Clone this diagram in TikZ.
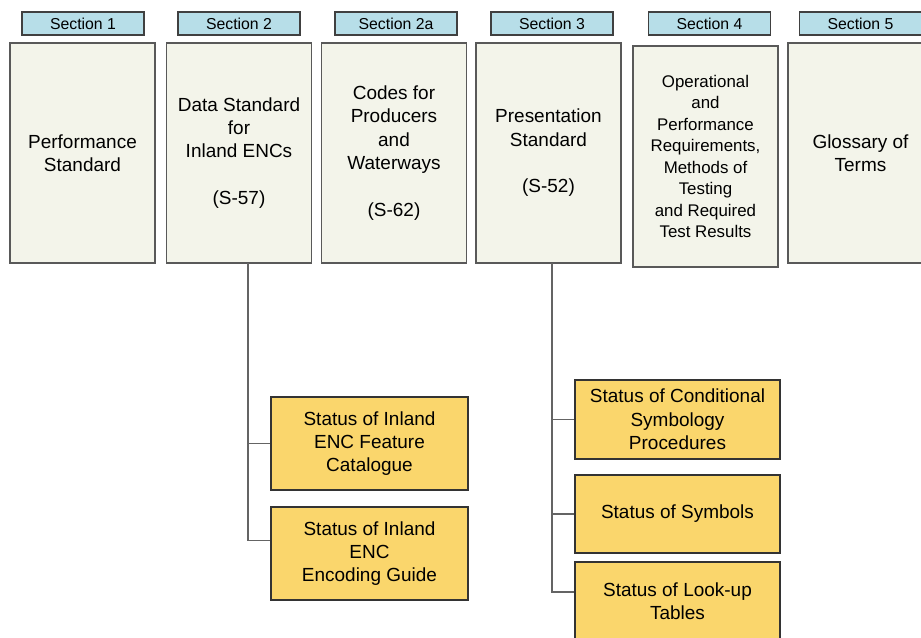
\documentclass[tikz,border=0pt]{standalone}
\usepackage{fontspec}
\setmainfont{Liberation Sans}
\usetikzlibrary{positioning,calc}
\definecolor{hdrblue}{RGB}{183,222,232}
\definecolor{boxpaper}{RGB}{243,244,234}
\definecolor{statgold}{RGB}{250,214,108}
\definecolor{linegray}{RGB}{100,100,100}

\begin{document}
\begin{tikzpicture}[x=0.02cm,y=-0.02cm]
\useasboundingbox (0,0) rectangle (921,637);
%%%%%%%%%%%%%%%%%%%%%%%%%%%%%%%%%%%%%%%%%%%%%%%%%%%%%%%%%%%%%%%%%%%%%%%%
%styles
\tikzstyle{header}=[draw=black!75,line width=0.8pt,fill=hdrblue,minimum width=2.44cm,minimum height=0.46cm,inner sep=0pt,font=\fontsize{9}{10}\selectfont]
\tikzstyle{section}=[draw=black!65,line width=0.8pt,fill=boxpaper,minimum width=2.9cm,minimum height=4.4cm,inner sep=2pt,align=center,font=\fontsize{10.8}{13.3}\selectfont]
\tikzstyle{status}=[draw=black!80,line width=0.8pt,fill=statgold,inner sep=2pt,align=center,font=\fontsize{10.8}{13.3}\selectfont]
\tikzstyle{conn}=[draw=linegray,line width=1pt]

%headers
\node[header] (sec1) at (83,23.5) {Section 1};
\node[header] (sec2) at (239,23.5) {Section 2};
\node[header] (sec2a) at (396,23.5) {Section 2a};
\node[header] (sec3) at (552,23.5) {Section 3};
\node[header] (sec4) at (709.5,23.5) {Section 4};
\node[header] (sec5) at (860.5,23.5) {Section 5};

%sections
\node[section] (perf) at (82.5,153) {Performance\\Standard};
\node[section] (datastd) at (239,153) {Data Standard\\for\\Inland ENCs\\[13.3pt](S-57)};
\node[section] (codes) at (394,153) {Codes for\\Producers\\and\\Waterways\\[13.3pt](S-62)};
\node[section] (pres) at (548.5,153) {Presentation\\Standard\\[13.3pt](S-52)};
\node[section,minimum height=4.42cm,font=\fontsize{9.6}{12.2}\selectfont] (oper) at (705.5,156.5)
 {Operational\\and\\Performance\\Requirements,\\Methods of\\Testing\\and Required\\Test Results};
\node[section] (gloss) at (860.5,153) {Glossary of\\Terms};

%status under S-57
\node[status,minimum width=3.94cm,minimum height=1.86cm] (featcat) at (369.5,443.5) {Status of Inland\\ENC Feature\\Catalogue};
\node[status,minimum width=3.94cm,minimum height=1.86cm] (encguide) at (369.5,553.5) {Status of Inland\\ENC\\Encoding Guide};

%status under S-52
\node[status,minimum width=4.1cm,minimum height=1.58cm] (condsym) at (677.5,419.5) {Status of Conditional\\Symbology\\Procedures};
\node[status,minimum width=4.1cm,minimum height=1.56cm] (symbols) at (677.5,514) {Status of Symbols};
\node[status,minimum width=4.1cm,minimum height=1.56cm] (lookup) at (677.5,601) {Status of Look-up\\Tables};

%connectors
\coordinate (trunkA) at (248,263);
\coordinate (trunkB) at (552,263);
\draw[conn] (trunkA) |- (featcat.west);
\draw[conn] (trunkA) |- ([yshift=0.26cm]encguide.west);
\draw[conn] (trunkB) |- (condsym.west);
\draw[conn] (trunkB) |- (symbols.west);
\draw[conn] (trunkB) |- ([yshift=0.18cm]lookup.west);
\end{tikzpicture}
\end{document}
